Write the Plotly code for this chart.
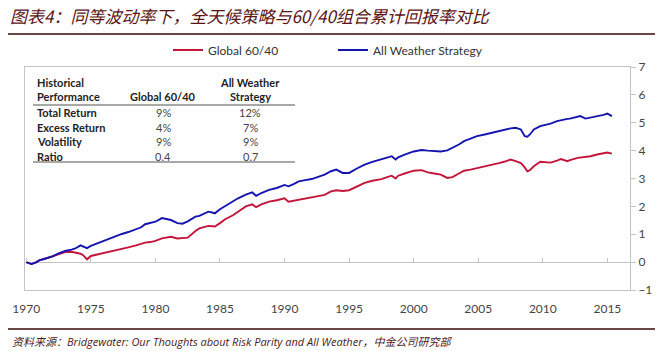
import plotly.graph_objects as go

years = [1970.0, 1970.4, 1970.75, 1971.0, 1971.5, 1972.0, 1972.5, 1973.0, 1973.5, 1973.8,
         1974.2, 1974.4, 1974.7, 1975.0, 1975.4, 1975.9, 1976.4, 1976.9, 1977.4, 1977.9,
         1978.5, 1978.9, 1979.2, 1979.6, 1980.0, 1980.5, 1981.2, 1981.7, 1982.1, 1982.5,
         1983.1, 1983.4, 1984.1, 1984.4, 1984.6, 1985.0, 1985.4, 1986.0, 1986.4, 1987.0,
         1987.5, 1987.8, 1988.2, 1988.8, 1989.4, 1990.0, 1990.3, 1990.7, 1991.1, 1991.6,
         1992.1, 1992.6, 1993.1, 1993.6, 1994.0, 1994.5, 1995.0, 1995.6, 1996.2, 1996.8,
         1997.5, 1998.0, 1998.3, 1998.6, 1998.8, 1999.3, 2000.0, 2000.6, 2001.1, 2001.6,
         2002.1, 2002.6, 2003.0, 2003.5, 2003.9, 2004.4, 2004.9, 2005.5, 2006.0, 2006.6,
         2007.0, 2007.5, 2007.9, 2008.3, 2008.6, 2008.8, 2009.0, 2009.3, 2009.8, 2010.3,
         2010.6, 2011.1, 2011.4, 2011.9, 2012.1, 2012.7, 2012.9, 2013.3, 2013.7, 2014.2,
         2014.7, 2015.0, 2015.35]

all_weather = [0.00, -0.07, -0.01, 0.06, 0.13, 0.20, 0.31, 0.40, 0.45, 0.49,
               0.60, 0.57, 0.50, 0.58, 0.65, 0.75, 0.85, 0.93, 1.01, 1.08,
               1.18, 1.25, 1.36, 1.40, 1.45, 1.58, 1.51, 1.40, 1.38, 1.46,
               1.63, 1.66, 1.81, 1.78, 1.75, 1.90, 2.02, 2.18, 2.29, 2.42,
               2.50, 2.38, 2.48, 2.59, 2.66, 2.77, 2.72, 2.80, 2.90, 2.94,
               2.98, 3.06, 3.14, 3.26, 3.32, 3.20, 3.20, 3.36, 3.50, 3.60,
               3.68, 3.76, 3.80, 3.68, 3.76, 3.86, 3.97, 4.02, 4.00, 3.98,
               3.97, 4.01, 4.10, 4.22, 4.34, 4.42, 4.52, 4.58, 4.64, 4.70,
               4.75, 4.80, 4.82, 4.76, 4.52, 4.50, 4.58, 4.76, 4.88, 4.94,
               4.97, 5.06, 5.10, 5.14, 5.15, 5.22, 5.24, 5.15, 5.18, 5.24,
               5.28, 5.33, 5.24]

global_6040 = [0.00, -0.07, -0.01, 0.06, 0.13, 0.20, 0.29, 0.36, 0.37, 0.34,
               0.30, 0.25, 0.10, 0.22, 0.26, 0.31, 0.38, 0.43, 0.48, 0.53,
               0.60, 0.67, 0.70, 0.72, 0.76, 0.85, 0.91, 0.85, 0.86, 0.88,
               1.12, 1.21, 1.30, 1.30, 1.28, 1.40, 1.54, 1.68, 1.81, 2.00,
               2.07, 1.97, 2.07, 2.17, 2.22, 2.29, 2.17, 2.20, 2.23, 2.28,
               2.33, 2.37, 2.41, 2.54, 2.58, 2.55, 2.58, 2.70, 2.84, 2.92,
               2.98, 3.06, 3.10, 3.00, 3.10, 3.18, 3.28, 3.30, 3.22, 3.18,
               3.14, 3.02, 3.05, 3.18, 3.28, 3.32, 3.37, 3.42, 3.48, 3.55,
               3.60, 3.68, 3.62, 3.55, 3.40, 3.26, 3.30, 3.44, 3.60, 3.58,
               3.57, 3.64, 3.70, 3.62, 3.66, 3.74, 3.75, 3.76, 3.80, 3.86,
               3.91, 3.93, 3.89]

assert len(years) == len(all_weather) == len(global_6040)

x_ticks = [1970, 1975, 1980, 1985, 1990, 1995, 2000, 2005, 2010, 2015]
y_ticks = [-1, 0, 1, 2, 3, 4, 5, 6, 7]

table_header = [["Historical", "Performance"], ["", "Global 60/40"], ["All Weather", "Strategy"]]
table_rows = ["Total Return", "Excess Return", "Volatility", "Ratio"]
table_g6040 = ["9%", "4%", "9%", "0.4"]
table_aw = ["12%", "7%", "9%", "0.7"]

title_text = "图表4：同等波动率下，全天候策略与60/40组合累计回报率对比"
source_text = "资料来源：Bridgewater: Our Thoughts about Risk Parity and All Weather，中金公司研究部"

W, H = 663, 351
L, R, T, B = 25, 630, 67, 290

def px(x):
    return (x - L) / (R - L)

def py(y):
    return (B - y) / (B - T)

RED = "#c3143a"
BLUE = "#1414b0"
AX = "#c4c4c4"
FONT = "Lato"

fig = go.Figure()
fig.add_trace(go.Scatter(x=years, y=global_6040, mode="lines", name="Global 60/40",
                         line=dict(color=RED, width=1.9)))
fig.add_trace(go.Scatter(x=years, y=all_weather, mode="lines", name="All Weather Strategy",
                         line=dict(color=BLUE, width=1.9)))
fig.add_trace(go.Scatter(x=[years[0]], y=[0], xaxis="x2", mode="markers",
                         marker=dict(opacity=0), showlegend=False, hoverinfo="skip"))

xr = [1969.9, 2016.75]

annotations = []
shapes = []

# Title and source
annotations.append(dict(x=px(8), y=py(15), xref="paper", yref="paper", xanchor="left", yanchor="middle",
                        text=title_text, showarrow=False,
                        font=dict(family="Noto Sans CJK SC", size=17, color="#5a1414", style="italic")))
annotations.append(dict(x=px(10), y=py(341), xref="paper", yref="paper", xanchor="left", yanchor="middle",
                        text=source_text, showarrow=False,
                        font=dict(family="Open Sans, Noto Sans CJK SC", size=11, color="#4a1a1a", style="italic")))
shapes.append(dict(type="line", xref="paper", yref="paper", x0=px(8), x1=px(655), y0=py(34), y1=py(34),
                   line=dict(color="#3a0a0a", width=1.5)))
shapes.append(dict(type="line", xref="paper", yref="paper", x0=px(8), x1=px(655), y0=py(329), y1=py(329),
                   line=dict(color="#3a0a0a", width=1.5)))

# Table
tcol = "#222222"
hx = [(35, "left"), (163, "center"), (250, "center")]
for (cx, anc), lines in zip(hx, table_header):
    for ly, t in zip([82, 96], lines):
        if t:
            annotations.append(dict(x=px(cx), y=py(ly), xref="paper", yref="paper", xanchor=anc,
                                    yanchor="middle", text="<b>%s</b>" % t, showarrow=False,
                                    font=dict(family=FONT, size=11, color=tcol)))
row_y = [112, 127, 141, 156]
for ry, lab, g, a in zip(row_y, table_rows, table_g6040, table_aw):
    annotations.append(dict(x=px(35), y=py(ry), xref="paper", yref="paper", xanchor="left", yanchor="middle",
                            text="<b>%s</b>" % lab, showarrow=False, font=dict(family=FONT, size=11, color=tcol)))
    annotations.append(dict(x=px(163), y=py(ry), xref="paper", yref="paper", xanchor="center", yanchor="middle",
                            text=g, showarrow=False, font=dict(family=FONT, size=11, color="#444")))
    annotations.append(dict(x=px(250), y=py(ry), xref="paper", yref="paper", xanchor="center", yanchor="middle",
                            text=a, showarrow=False, font=dict(family=FONT, size=11, color="#444")))
for ly in [105, 162]:
    shapes.append(dict(type="line", xref="paper", yref="paper", x0=px(33), x1=px(295), y0=py(ly), y1=py(ly),
                       line=dict(color="#a8a8a8", width=2)))

fig.update_layout(
    width=W, height=H,
    margin=dict(l=L, r=W - R, t=T, b=H - B),
    paper_bgcolor="white", plot_bgcolor="white",
    showlegend=True,
    legend=dict(orientation="h", x=px(168), y=py(50), xanchor="left", yanchor="middle",
                font=dict(family=FONT, size=12, color="#333"), entrywidth=120,
                bgcolor="rgba(0,0,0,0)", itemwidth=30),
    xaxis=dict(range=xr, tickvals=x_ticks, showgrid=False, zeroline=False, showline=True,
               linecolor=AX, linewidth=1, mirror=True, ticks="outside", ticklen=8,
               tickcolor="rgba(0,0,0,0)", tickfont=dict(family=FONT, size=12, color="#444")),
    xaxis2=dict(range=xr, tickvals=x_ticks, overlaying="x", anchor="free", position=py(262),
                showgrid=False, zeroline=False, showline=False, ticks="inside", ticklen=4,
                tickcolor=AX, showticklabels=False),
    yaxis=dict(range=[-1, 7], tickvals=y_ticks, side="right", showgrid=False, zeroline=True,
               zerolinecolor=AX, zerolinewidth=1, showline=True, linecolor=AX, linewidth=1,
               mirror=True, ticks="outside", ticklen=5, tickcolor=AX,
               tickfont=dict(family=FONT, size=12, color="#444")),
    annotations=annotations,
    shapes=shapes,
)

fig.write_html("out.html")
